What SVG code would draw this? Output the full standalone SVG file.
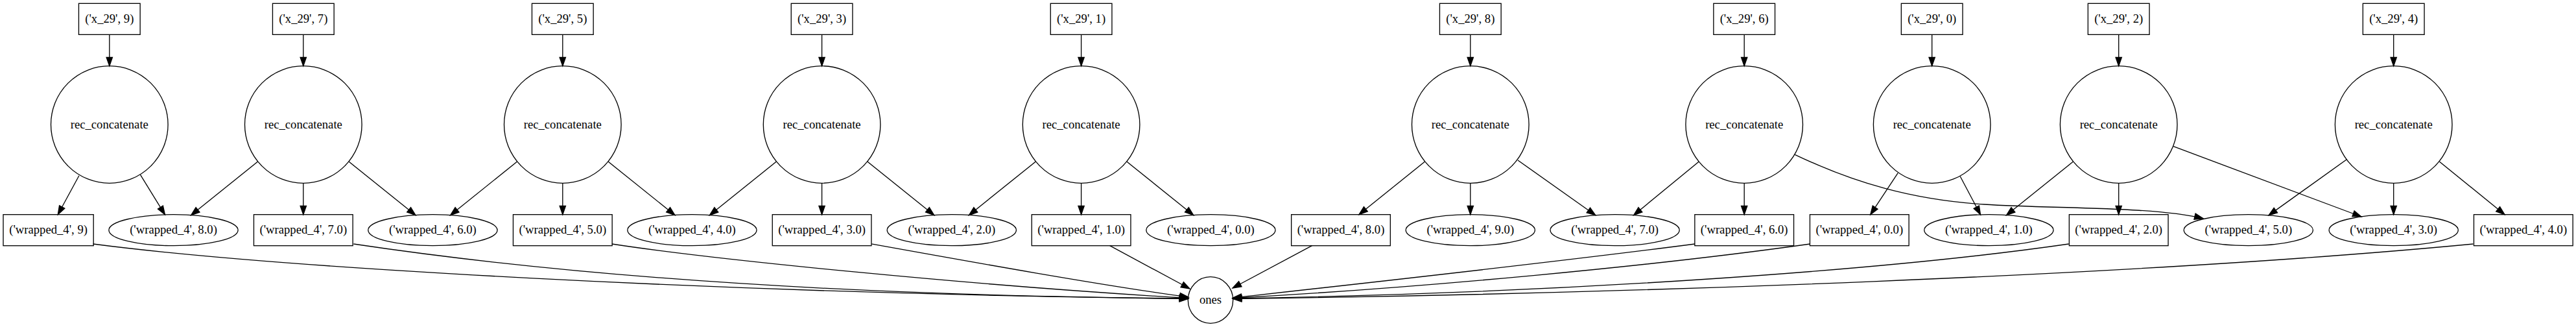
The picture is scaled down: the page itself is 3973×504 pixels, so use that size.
<svg xmlns="http://www.w3.org/2000/svg" width="3973" height="504" viewBox="0 0 3973 504">
<style>
.n{fill:none;stroke:#000;stroke-width:1.33}
.e path{fill:none;stroke:#000;stroke-width:1.33;marker-end:url(#ah)}
text{font-family:"Liberation Serif","Times New Roman",serif;font-size:18.67px;text-anchor:middle;fill:#000}
</style>
<defs>
<marker id="ah" markerUnits="userSpaceOnUse" markerWidth="16" markerHeight="12" refX="13.33" refY="4.67" orient="auto" overflow="visible">
<path d="M0,0 L13.33,4.67 L0,9.33 Z" fill="#000" stroke="#000" stroke-width="1.33"/>
</marker>
</defs>
<rect x="0" y="0" width="3973" height="504" fill="#fff"/>

<g id="edges" class="e">
<path d="M168.8,53.33 L168.8,101.7"/>
<path d="M467.8,53.33 L467.8,101.7"/>
<path d="M867.8,53.33 L867.8,101.7"/>
<path d="M1267.6,53.33 L1267.6,101.7"/>
<path d="M1667.6,53.33 L1667.6,101.7"/>
<path d="M2267.8,53.33 L2267.8,101.7"/>
<path d="M2690.2,53.33 L2690.2,101.7"/>
<path d="M2979.7,53.33 L2979.7,101.7"/>
<path d="M3267.7,53.33 L3267.7,101.7"/>
<path d="M3691.7,53.33 L3691.7,101.7"/>

<path d="M121.9,270.7 L89.3,330.7"/>
<path d="M216.5,269.3 L254.4,330.9"/>
<path d="M397.3,249.3 L294.6,331.7"/>
<path d="M467.8,282.3 L467.8,330.7"/>
<path d="M538.3,249.3 L641,331.7"/>
<path d="M797.3,249.3 L694.6,331.7"/>
<path d="M867.8,282.3 L867.8,330.7"/>
<path d="M938.3,249.3 L1041,331.7"/>
<path d="M1197.1,249.3 L1094.4,331.7"/>
<path d="M1267.6,282.3 L1267.6,330.7"/>
<path d="M1338.1,249.3 L1440.8,331.7"/>
<path d="M1597.1,249.3 L1494.4,331.7"/>
<path d="M1667.6,282.3 L1667.6,330.7"/>
<path d="M1738.1,249.3 L1840.8,331.7"/>
<path d="M2197.3,249.3 L2096,330.7"/>
<path d="M2267.8,282.3 L2267.8,330.7"/>
<path d="M2341,247 L2460.7,331.7"/>
<path d="M2620,249.3 L2519.6,331.7"/>
<path d="M2690.2,282.3 L2690.2,330.7"/>
<path d="M2768.3,238.3 C2860,282 2950,308 3060,315 C3170,322 3320,318 3398,336.7"/>
<path d="M2927.2,266.7 L2884.8,330.7"/>
<path d="M3023.2,271.7 L3054.5,330.9"/>
<path d="M3197.2,249.3 L3094.5,331.7"/>
<path d="M3267.7,282.3 L3267.7,330.7"/>
<path d="M3352.2,225.7 L3642,334"/>
<path d="M3619,246 L3499,331.9"/>
<path d="M3691.7,282.3 L3691.7,330.7"/>
<path d="M3762.6,249.3 L3863,330.7"/>

<path d="M143.6,376 C420,412 1100,452 1832.5,460.5"/>
<path d="M545.4,376 C800,414 1200,455 1832.5,460"/>
<path d="M943.8,376 C1100,400 1500,440 1832.5,459.5"/>
<path d="M1344.4,376 C1500,404 1700,440 1833,458"/>
<path d="M1711.7,378.7 L1835,445"/>
<path d="M2023.5,378.7 L1901,444"/>
<path d="M2614,376 C2400,404 2100,437 1901.5,459"/>
<path d="M2791.7,376 C2550,410 2200,443 1901.5,459.5"/>
<path d="M3190.7,376 C2900,418 2400,452 1901.5,460"/>
<path d="M3814.4,376 C3300,425 2500,453 1901.5,460.5"/>
</g>

<g id="x29_9"><rect class="n" x="121.45" y="5.33" width="94.7" height="48"/><text x="168.8" y="35">('x_29', 9)</text></g>
<g id="x29_7"><rect class="n" x="420.45" y="5.33" width="94.7" height="48"/><text x="467.8" y="35">('x_29', 7)</text></g>
<g id="x29_5"><rect class="n" x="820.45" y="5.33" width="94.7" height="48"/><text x="867.8" y="35">('x_29', 5)</text></g>
<g id="x29_3"><rect class="n" x="1220.25" y="5.33" width="94.7" height="48"/><text x="1267.6" y="35">('x_29', 3)</text></g>
<g id="x29_1"><rect class="n" x="1620.25" y="5.33" width="94.7" height="48"/><text x="1667.6" y="35">('x_29', 1)</text></g>
<g id="x29_8"><rect class="n" x="2220.45" y="5.33" width="94.7" height="48"/><text x="2267.8" y="35">('x_29', 8)</text></g>
<g id="x29_6"><rect class="n" x="2642.85" y="5.33" width="94.7" height="48"/><text x="2690.2" y="35">('x_29', 6)</text></g>
<g id="x29_0"><rect class="n" x="2932.35" y="5.33" width="94.7" height="48"/><text x="2979.7" y="35">('x_29', 0)</text></g>
<g id="x29_2"><rect class="n" x="3220.35" y="5.33" width="94.7" height="48"/><text x="3267.7" y="35">('x_29', 2)</text></g>
<g id="x29_4"><rect class="n" x="3644.35" y="5.33" width="94.7" height="48"/><text x="3691.7" y="35">('x_29', 4)</text></g>

<g id="rc_9"><circle class="n" cx="168.8" cy="192" r="90.3"/><text x="168.8" y="197.6">rec_concatenate</text></g>
<g id="rc_7"><circle class="n" cx="467.8" cy="192" r="90.3"/><text x="467.8" y="197.6">rec_concatenate</text></g>
<g id="rc_5"><circle class="n" cx="867.8" cy="192" r="90.3"/><text x="867.8" y="197.6">rec_concatenate</text></g>
<g id="rc_3"><circle class="n" cx="1267.6" cy="192" r="90.3"/><text x="1267.6" y="197.6">rec_concatenate</text></g>
<g id="rc_1"><circle class="n" cx="1667.6" cy="192" r="90.3"/><text x="1667.6" y="197.6">rec_concatenate</text></g>
<g id="rc_8"><circle class="n" cx="2267.8" cy="192" r="90.3"/><text x="2267.8" y="197.6">rec_concatenate</text></g>
<g id="rc_6"><circle class="n" cx="2690.2" cy="192" r="90.3"/><text x="2690.2" y="197.6">rec_concatenate</text></g>
<g id="rc_0"><circle class="n" cx="2979.7" cy="192" r="90.3"/><text x="2979.7" y="197.6">rec_concatenate</text></g>
<g id="rc_2"><circle class="n" cx="3267.7" cy="192" r="90.3"/><text x="3267.7" y="197.6">rec_concatenate</text></g>
<g id="rc_4"><circle class="n" cx="3691.7" cy="192" r="90.3"/><text x="3691.7" y="197.6">rec_concatenate</text></g>

<g id="w_9"><rect class="n" x="5" y="330.7" width="139.2" height="48"/><text x="74.6" y="360.3">('wrapped_4', 9)</text></g>
<g id="w_8_0"><ellipse class="n" cx="267.5" cy="354.7" rx="99.6" ry="24"/><text x="267.5" y="360.3">('wrapped_4', 8.0)</text></g>
<g id="w_7_0"><rect class="n" x="391.45" y="330.7" width="152.7" height="48"/><text x="467.8" y="360.3">('wrapped_4', 7.0)</text></g>
<g id="w_6_0"><ellipse class="n" cx="667.4" cy="354.7" rx="99.6" ry="24"/><text x="667.4" y="360.3">('wrapped_4', 6.0)</text></g>
<g id="w_5_0"><rect class="n" x="791.45" y="330.7" width="152.7" height="48"/><text x="867.8" y="360.3">('wrapped_4', 5.0)</text></g>
<g id="w_4_0"><ellipse class="n" cx="1067.4" cy="354.7" rx="99.6" ry="24"/><text x="1067.4" y="360.3">('wrapped_4', 4.0)</text></g>
<g id="w_3_0"><rect class="n" x="1191.25" y="330.7" width="152.7" height="48"/><text x="1267.6" y="360.3">('wrapped_4', 3.0)</text></g>
<g id="w_2_0"><ellipse class="n" cx="1467.8" cy="354.7" rx="99.6" ry="24"/><text x="1467.8" y="360.3">('wrapped_4', 2.0)</text></g>
<g id="w_1_0"><rect class="n" x="1591.25" y="330.7" width="152.7" height="48"/><text x="1667.6" y="360.3">('wrapped_4', 1.0)</text></g>
<g id="w_0_0e"><ellipse class="n" cx="1867.4" cy="354.7" rx="99.6" ry="24"/><text x="1867.4" y="360.3">('wrapped_4', 0.0)</text></g>
<g id="w_8_0b"><rect class="n" x="1991.65" y="330.7" width="152.7" height="48"/><text x="2068" y="360.3">('wrapped_4', 8.0)</text></g>
<g id="w_9_0"><ellipse class="n" cx="2267.8" cy="354.7" rx="99.6" ry="24"/><text x="2267.8" y="360.3">('wrapped_4', 9.0)</text></g>
<g id="w_7_0e"><ellipse class="n" cx="2490.6" cy="354.7" rx="99.6" ry="24"/><text x="2490.6" y="360.3">('wrapped_4', 7.0)</text></g>
<g id="w_6_0b"><rect class="n" x="2613.85" y="330.7" width="152.7" height="48"/><text x="2690.2" y="360.3">('wrapped_4', 6.0)</text></g>
<g id="w_0_0b"><rect class="n" x="2791.45" y="330.7" width="152.7" height="48"/><text x="2867.8" y="360.3">('wrapped_4', 0.0)</text></g>
<g id="w_1_0e"><ellipse class="n" cx="3067.4" cy="354.7" rx="99.6" ry="24"/><text x="3067.4" y="360.3">('wrapped_4', 1.0)</text></g>
<g id="w_2_0b"><rect class="n" x="3191.35" y="330.7" width="152.7" height="48"/><text x="3267.7" y="360.3">('wrapped_4', 2.0)</text></g>
<g id="w_5_0e"><ellipse class="n" cx="3467.8" cy="354.7" rx="99.6" ry="24"/><text x="3467.8" y="360.3">('wrapped_4', 5.0)</text></g>
<g id="w_3_0e"><ellipse class="n" cx="3691.7" cy="354.7" rx="99.6" ry="24"/><text x="3691.7" y="360.3">('wrapped_4', 3.0)</text></g>
<g id="w_4_0b"><rect class="n" x="3815.45" y="330.7" width="152.7" height="48"/><text x="3891.8" y="360.3">('wrapped_4', 4.0)</text></g>

<g id="ones"><ellipse class="n" cx="1867" cy="462.5" rx="34.7" ry="35.8"/><text x="1867" y="468.1">ones</text></g>
</svg>
